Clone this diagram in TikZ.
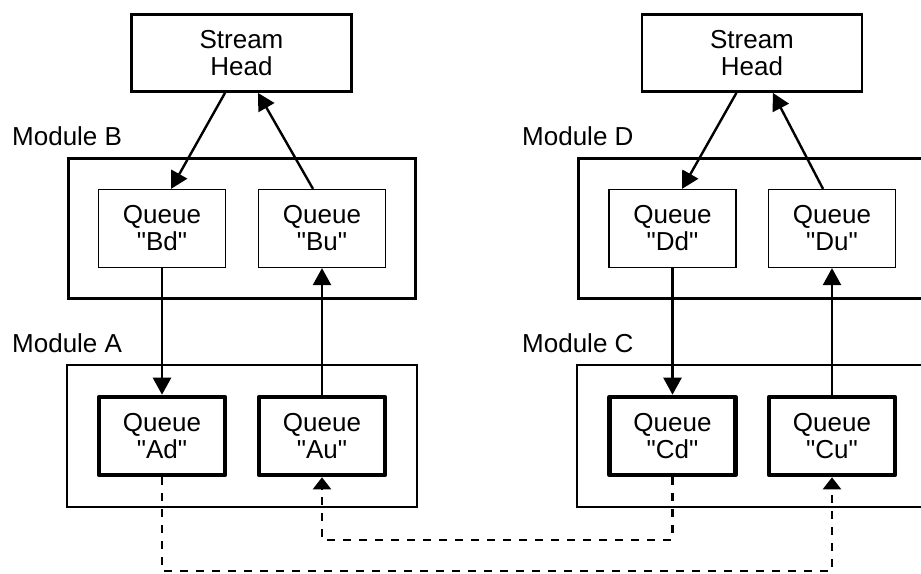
\documentclass[tikz,border=0pt]{standalone}
\usepackage{fontspec}
\setmainfont{Liberation Sans}[Ligatures=TeXOff]
\usetikzlibrary{arrows.meta,calc}
\begin{document}
\begin{tikzpicture}[x=1pt,y=-1pt,
  every node/.style={inner sep=0pt,align=center,font=\fontsize{26}{27}\selectfont},
  headbox/.style={draw,line width=2.8pt,minimum width=220pt,minimum height=77pt},
  qthin/.style={draw,line width=1.2pt,minimum width=127pt,minimum height=78pt},
  qthick/.style={draw,line width=4.6pt,line join=round,minimum width=126pt,minimum height=78pt},
  modtop/.style={draw,line width=2.8pt,minimum width=347.5pt,minimum height=140.5pt},
  modbot/.style={draw,line width=2.2pt,minimum width=350pt,minimum height=142pt},
  modlabel/.style={anchor=base west},
  arr/.style={line width=2.4pt,-{Triangle[length=17pt,width=18pt]}},
  darr/.style={line width=2.4pt,dash pattern=on 8pt off 8pt,-{Triangle[length=12pt,width=18pt]}}
]
\useasboundingbox (0,0) rectangle (921,573);
\clip (0,0) rectangle (921,573);

% modules (drawn first)
\node[modtop] (modB) at (242,228.5) {};
\node[modbot] (modA) at (242,436) {};
\node[modtop] (modD) at (752,228.5) {};
\node[modbot] (modC) at (752,436) {};

\node[modlabel] (labB) at (12,145) {Module B};
\node[modlabel] (labA) at (12,352) {Module A};
\node[modlabel] (labD) at (522,145) {Module D};
\node[modlabel] (labC) at (522,352) {Module C};

% stream heads
\node[headbox] (SHL) at (241.5,53) {Stream\\Head};
\node[headbox] (SHR) at (752,53) {Stream\\Head};

% queues
\node[qthin] (Bd) at (162,228.5) {Queue\\"Bd"};
\node[qthin] (Bu) at (322,228.5) {Queue\\"Bu"};
\node[qthin] (Dd) at (672.5,228.5) {Queue\\"Dd"};
\node[qthin] (Du) at (832,228.5) {Queue\\"Du"};
\node[qthick] (Ad) at (162,436) {Queue\\"Ad"};
\node[qthick] (Au) at (322,436) {Queue\\"Au"};
\node[qthick] (Cd) at (672.5,436) {Queue\\"Cd"};
\node[qthick] (Cu) at (832,436) {Queue\\"Cu"};

% stream head connections
\draw[arr] ($(SHL.south west)!0.426!(SHL.south east)$) -- ($(Bd.north west)!0.57!(Bd.north east)$);
\draw[arr] ($(Bu.north west)!0.43!(Bu.north east)$) -- ($(SHL.south west)!0.574!(SHL.south east)$);
\draw[arr] ($(SHR.south west)!0.43!(SHR.south east)$) -- ($(Dd.north west)!0.574!(Dd.north east)$);
\draw[arr] ($(Du.north west)!0.43!(Du.north east)$) -- ($(SHR.south west)!0.594!(SHR.south east)$);

% vertical connections
\draw[arr] (Bd.south) -- (Ad.north);
\draw[arr] (Au.north) -- (Bu.south);
\draw[arr] (Dd.south) -- (Cd.north);
\draw[arr] (Cu.north) -- (Du.south);

% dashed cross links
\coordinate (low) at (0,571);
\coordinate (mid) at (0,540);
\draw[darr] (Ad.south) -- (Ad.south |- low) -| (Cu.south);
\draw[darr] (Cd.south) -- (Cd.south |- mid) -| (Au.south);
\end{tikzpicture}
\end{document}
